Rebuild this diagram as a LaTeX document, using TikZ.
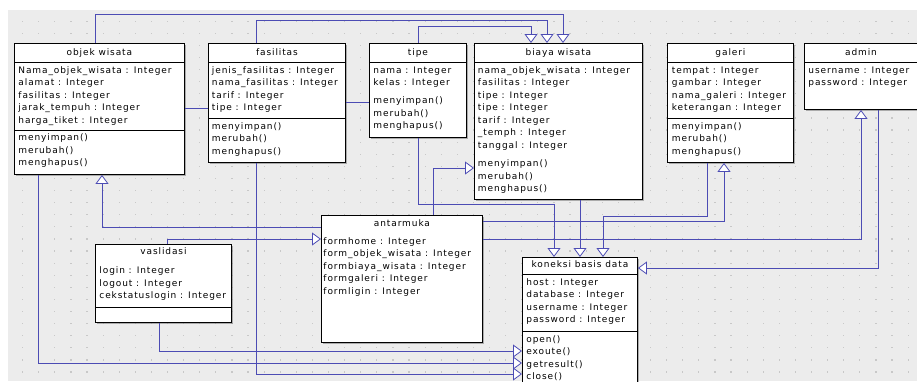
\documentclass[tikz,border=0pt]{standalone}
\usepackage{fontspec}
\usepackage{tikz}
\usetikzlibrary{arrows.meta}
\usetikzlibrary{calc}
\usetikzlibrary{shadows}
\newfontfamily\umlfont[LetterSpace=10]{DejaVu Sans}
\definecolor{linkblue}{RGB}{76,76,180}
\definecolor{canvas}{RGB}{236,236,236}
\definecolor{griddot}{RGB}{200,200,200}

\begin{document}
\begin{tikzpicture}[x=1pt, y=-1pt, line width=0.9pt,
	every node/.style={font=\umlfont\fontsize{9}{12.5}\selectfont, inner sep=0},
	box/.style={draw, fill=white, anchor=north west, drop shadow={shadow xshift=1.2pt, shadow yshift=-1.2pt, fill=black!50, opacity=.6}},
	title/.style={anchor=base},
	fields/.style={anchor=base west, align=left}, % base = last line
	link/.style={draw=linkblue, line width=0.8pt},
	gen/.style={link, -{Triangle[length=9pt, width=13pt, fill=white]}}]
	% Canvas
	\useasboundingbox (0,0) rectangle (917,381);
	\fill[white] (0,0) rectangle (917,381);
	\fill[canvas] (8,10) rectangle (917,381);
	\foreach \x in {22,38.1,...,917}
		\foreach \y in {20.5,32.6,...,381}
			\fill[griddot] (\x,\y) rectangle ++(1.2,1.2);
	% Classes
	\node[box, minimum width=170, minimum height=131] (objek) at (14,43) {};
	\node[title] (objek-t) at ($(objek.north)+(0,12)$) {objek wisata};
	\draw (objek.north west) ++(0,19) -- ++(170,0);
	\draw (objek.north west) ++(0,87) -- ++(170,0);
	\node[fields] (objek-a) at ($(objek.north west)+(4,80)$) {Nama\_objek\_wisata : Integer\\alamat : Integer\\fasilitas : Integer\\jarak\_tempuh : Integer\\harga\_tiket : Integer};
	\node[fields] (objek-m) at ($(objek.north west)+(4,122.5)$) {menyimpan()\\merubah()\\menghapus()};

	\node[box, minimum width=137, minimum height=119] (fasilitas) at (208,43) {};
	\node[title] (fasilitas-t) at ($(fasilitas.north)+(0,12)$) {fasilitas};
	\draw (fasilitas.north west) ++(0,19) -- ++(137,0);
	\draw (fasilitas.north west) ++(0,75) -- ++(137,0);
	\node[fields] (fasilitas-a) at ($(fasilitas.north west)+(3.5,67.5)$) {jenis\_fasilitas : Integer\\nama\_fasilitas : Integer\\tarif : Integer\\tipe : Integer};
	\node[fields] (fasilitas-m) at ($(fasilitas.north west)+(3.5,111)$) {menyimpan()\\merubah()\\menghapus()};

	\node[box, minimum width=97, minimum height=94] (tipe) at (369,43) {};
	\node[title] (tipe-t) at ($(tipe.north)+(0,12)$) {tipe};
	\draw (tipe.north west) ++(0,19) -- ++(97,0);
	\node[fields] (tipe-a) at ($(tipe.north west)+(4,42.5)$) {nama : Integer\\kelas : Integer};
	\node[fields] (tipe-m) at ($(tipe.north west)+(4,85.5)$) {menyimpan()\\merubah()\\menghapus()};

	\node[box, minimum width=168, minimum height=156] (biaya) at (474,43) {};
	\node[title] (biaya-t) at ($(biaya.north)+(0,12)$) {biaya wisata};
	\draw (biaya.north west) ++(0,19) -- ++(168,0);
	\node[fields] (biaya-a) at ($(biaya.north west)+(3.5,105)$) {nama\_objek\_wisata : Integer\\fasilitas : Integer\\tipe : Integer\\tipe : Integer\\tarif : Integer\\\_temph : Integer\\tanggal : Integer};
	\node[fields] (biaya-m) at ($(biaya.north west)+(3.5,148.5)$) {menyimpan()\\merubah()\\menghapus()};

	\node[box, minimum width=126, minimum height=119] (galeri) at (667,43) {};
	\node[title] (galeri-t) at ($(galeri.north)+(0,12)$) {galeri};
	\draw (galeri.north west) ++(0,19) -- ++(126,0);
	\draw (galeri.north west) ++(0,75) -- ++(126,0);
	\node[fields] (galeri-a) at ($(galeri.north west)+(4.5,67.5)$) {tempat : Integer\\gambar : Integer\\nama\_galeri : Integer\\keterangan : Integer};
	\node[fields] (galeri-m) at ($(galeri.north west)+(4.5,111)$) {menyimpan()\\merubah()\\menghapus()};

	\node[box, minimum width=122, minimum height=66] (admin) at (804,43) {};
	\node[title] (admin-t) at ($(admin.north west)+(57,12)$) {admin};
	\draw (admin.north west) ++(0,19) -- ++(122,0);
	\node[fields] (admin-a) at ($(admin.north west)+(4,42.5)$) {username : Integer\\password : Integer};

	\node[box, minimum width=161, minimum height=127] (antarmuka) at (321,215) {};
	\node[title] (antarmuka-t) at ($(antarmuka.north)+(0,11)$) {antarmuka};
	\node[fields] (antarmuka-a) at ($(antarmuka.north west)+(2,79)$) {formhome : Integer\\form\_objek\_wisata : Integer\\formbiaya\_wisata : Integer\\formgaleri : Integer\\formligin : Integer};

	\node[box, minimum width=115, minimum height=130] (koneksi) at (522,257) {};
	\node[title] (koneksi-t) at ($(koneksi.north)+(0,10)$) {koneksi basis data};
	\draw (koneksi.north west) ++(0,17) -- ++(115,0);
	\draw (koneksi.north west) ++(0,74) -- ++(115,0);
	\node[fields] (koneksi-a) at ($(koneksi.north west)+(4,65.5)$) {host : Integer\\database : Integer\\username : Integer\\password : Integer};
	\node[fields] (koneksi-m) at ($(koneksi.north west)+(4,122.5)$) {open()\\exoute()\\getresult()\\close()};

	\node[box, minimum width=136, minimum height=78] (validasi) at (95,244) {};
	\node[title] (validasi-t) at ($(validasi.north)+(0,10.5)$) {vaslidasi};
	\draw (validasi.north west) ++(0,63) -- ++(136,0);
	\node[fields] (validasi-a) at ($(validasi.north west)+(4,54.5)$) {login : Integer\\logout : Integer\\cekstatuslogin : Integer};

	% Links
	\draw[gen] ($(objek.north west)+(81,0)$) -- ++(0,-29) -| ($(biaya.north west)+(89,0)$);
	\draw[gen] ($(fasilitas.north west)+(48,0)$) -- ++(0,-23) -| ($(biaya.north west)+(73,0)$);
	\draw[gen] (tipe.north) -- ++(0,-17) -| ($(biaya.north west)+(57,0)$);
	\draw[link] ($(objek.north east)+(0,65)$) -- ($(fasilitas.north west)+(0,65)$);
	\draw[link] ($(fasilitas.north east)+(0,59)$) -- ($(tipe.north west)+(0,59)$);
	\draw[gen] ($(objek.south west)+(24,0)$) |- ($(koneksi.north west)+(0,106)$);
	\draw[gen] ($(fasilitas.south west)+(48,0)$) |- ($(koneksi.north west)+(0,117)$);
	\draw[gen] ($(validasi.south west)+(64,0)$) |- ($(koneksi.north west)+(0,94)$);
	\draw[gen] ($(antarmuka.north west)+(0,12)$) -| ($(objek.south west)+(88,0)$);
	\draw[gen] ($(validasi.north west)+(72,0)$) |- ($(antarmuka.north west)+(0,24)$);
	\draw[gen] ($(antarmuka.north west)+(112,0)$) |- ($(biaya.north west)+(0,125)$);
	\draw[gen] (tipe.south) -- ++(0,66) -| ($(koneksi.north west)+(32,0)$);
	\draw[gen] ($(biaya.south west)+(106,0)$) -- ($(koneksi.north west)+(58,0)$);
	\draw[gen] ($(galeri.south west)+(40,0)$) -- ++(0,53) -| ($(koneksi.north west)+(81,0)$);
	\draw[gen] ($(antarmuka.north east)+(0,6)$) -| ($(galeri.south west)+(57,0)$);
	\draw[gen] ($(antarmuka.north east)+(0,24)$) -| ($(admin.south west)+(57,0)$);
	\draw[gen] ($(admin.south west)+(74,0)$) |- ($(koneksi.north east)+(0,11)$);
\end{tikzpicture}
\end{document}
